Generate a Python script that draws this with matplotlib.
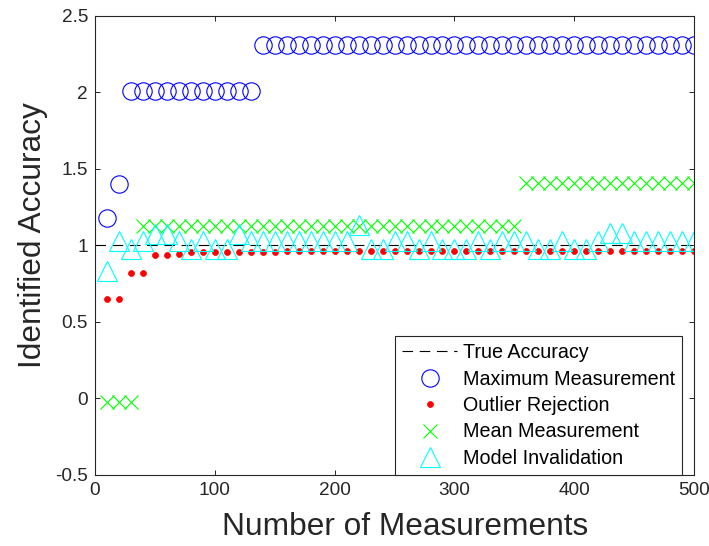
import matplotlib
matplotlib.use("Agg")
import matplotlib.pyplot as plt
import numpy as np

plt.rcParams['font.family'] = ['Liberation Sans', 'DejaVu Sans']
plt.rcParams['axes.unicode_minus'] = False

# ---- data ----
n_meas = list(range(10, 510, 10))

true_x = [0, 500]
true_y = [1, 1]

max_meas = [1.18, 1.40] + [2.01] * 11 + [2.31] * 37

outlier_rej = ([0.65, 0.65, 0.82, 0.82, 0.937, 0.937, 0.943]
               + [0.955] * 8 + [0.96] * 15 + [0.965] * 20)

mean_meas = [-0.022] * 3 + [1.128] * 32 + [1.405] * 15

model_inv = [0.83, 1.03, 0.976, 1.03, 1.075, 1.075, 1.03, 0.976, 1.03, 0.976,
             0.976, 1.075, 1.03, 1.03, 1.03, 1.03, 1.03, 1.03, 1.03, 1.03,
             1.03, 1.13, 0.976, 0.976, 1.03, 1.03, 0.976, 1.03, 0.976, 0.976,
             0.976, 1.03, 0.976, 1.03, 1.03, 1.03, 0.976, 0.976, 1.03, 0.976,
             0.976, 1.03, 1.08, 1.08, 1.03, 1.03, 1.03, 1.03, 1.03, 1.03]

x_ticks = [0, 100, 200, 300, 400, 500]
y_ticks = [-0.5, 0, 0.5, 1, 1.5, 2, 2.5]
labels = ['True Accuracy', 'Maximum Measurement', 'Outlier Rejection',
          'Mean Measurement', 'Model Invalidation']

# ---- figure ----
fig = plt.figure(figsize=(7.09, 5.46), dpi=100)
ax = fig.add_axes([0.134, 0.1305, 0.845, 0.841])

txt = '#262626'
ax.plot(true_x, true_y, color='k', lw=0.8, dashes=(9.5, 6), label=labels[0])
ax.plot(n_meas, max_meas, ls='none', marker='o', ms=12.5, mfc='none',
        mec='#0000ff', mew=0.8, label=labels[1])
ax.plot(n_meas, outlier_rej, ls='none', marker='o', ms=4.3, mfc='#ff0000',
        mec='#ff0000', mew=0.5, label=labels[2])
ax.plot(n_meas, mean_meas, ls='none', marker='x', ms=9.5, mec='#00ff00',
        mew=0.8, label=labels[3])
ax.plot(n_meas, model_inv, ls='none', marker='^', ms=14, mfc='none',
        mec='#00ffff', mew=0.8, label=labels[4])

ax.set_xlim(0, 500)
ax.set_ylim(-0.5, 2.5)
ax.set_xticks(x_ticks)
ax.set_yticks(y_ticks)
ax.set_yticklabels(['%g' % v for v in y_ticks])
ax.tick_params(direction='in', length=3.8, width=0.7, top=True, right=True,
               labelsize=13.7, colors=txt, labelcolor=txt, pad=5)
for s in ax.spines.values():
    s.set_linewidth(0.8)
    s.set_color(txt)

ax.set_xlabel('Number of Measurements', fontsize=22.8, color=txt)
ax.set_ylabel('Identified Accuracy', fontsize=22.8, color=txt)
ax.xaxis.set_label_coords(0.517, -0.113, transform=ax.transAxes)
ax.yaxis.set_label_coords(-0.103, 0.523, transform=ax.transAxes)
ax.xaxis.label.set_va('center')
ax.yaxis.label.set_va('center')

leg = ax.legend(loc='lower right', bbox_to_anchor=(0.98, 0.0), borderaxespad=0,
                fontsize=14.2, frameon=True, fancybox=False, framealpha=1,
                edgecolor=txt, handlelength=2.8, handletextpad=0.3,
                labelspacing=0.375, borderpad=0.35)
leg.get_frame().set_linewidth(0.8)

fig.savefig('out.png', dpi=100)
